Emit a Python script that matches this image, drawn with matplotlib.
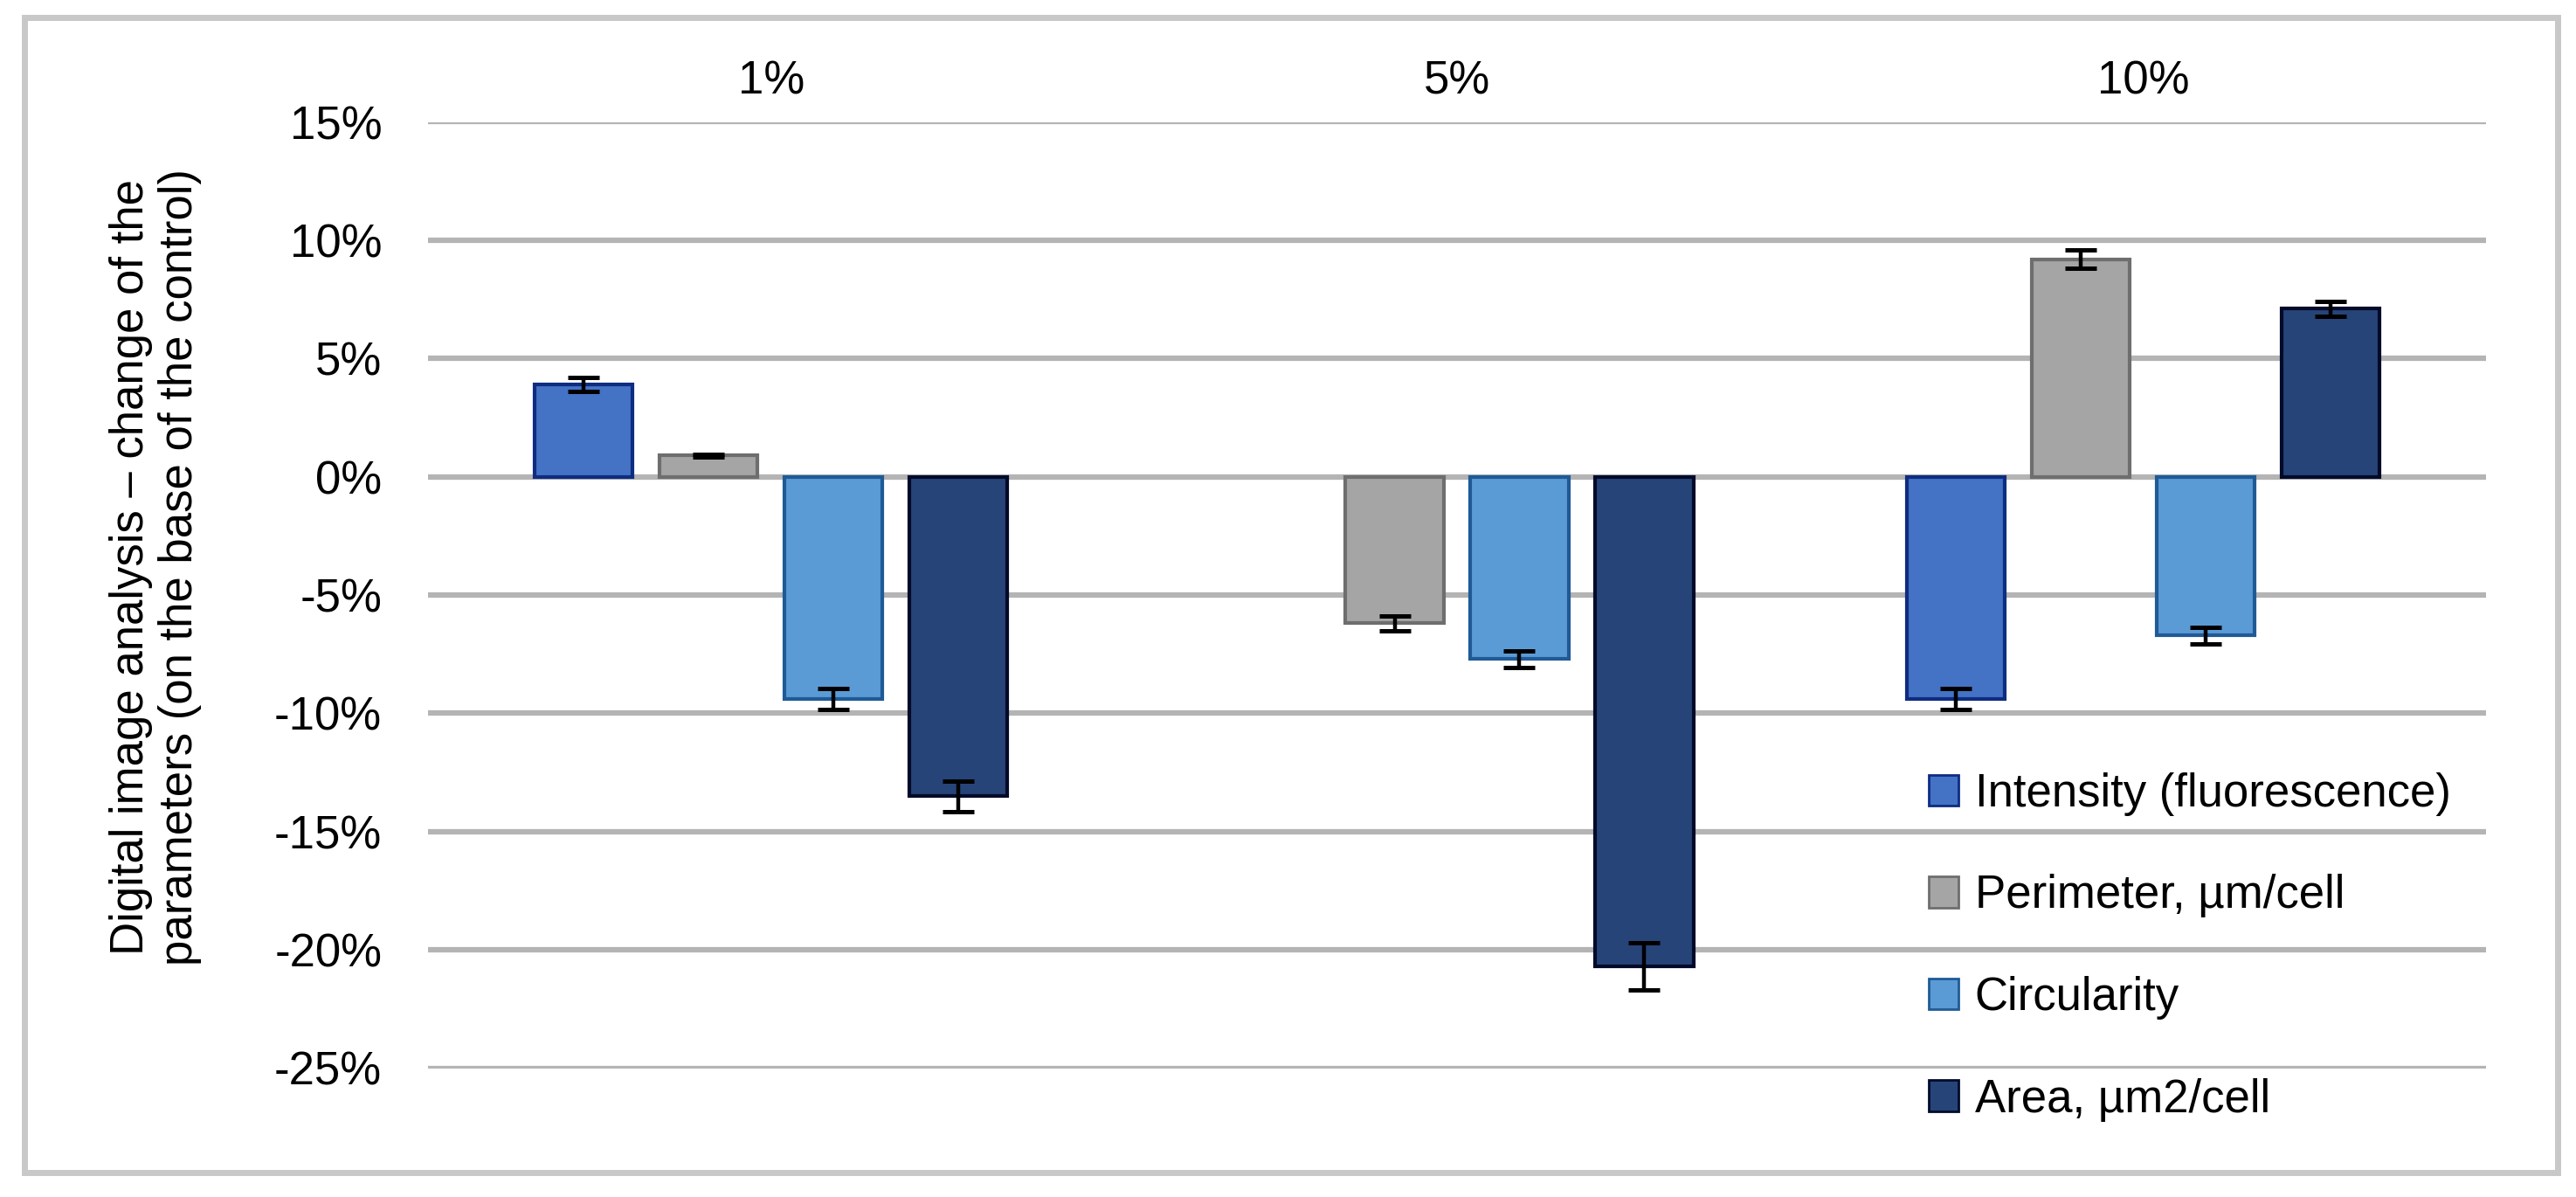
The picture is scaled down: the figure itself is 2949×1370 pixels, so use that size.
import numpy as np
import matplotlib
matplotlib.use("Agg")
import matplotlib.pyplot as plt
from matplotlib.patches import Rectangle, Patch

# ---- data ----
categories = ["1%", "5%", "10%"]
series_names = ["Intensity (fluorescence)", "Perimeter, \u00b5m/cell", "Circularity", "Area, \u00b5m2/cell"]
intensity = [3.9, np.nan, -9.4]
perimeter = [0.9, -6.2, 9.2]
circularity = [-9.4, -7.7, -6.7]
area = [-13.5, -20.7, 7.1]
intensity_err = [0.3, np.nan, 0.45]
perimeter_err = [0.05, 0.3, 0.4]
circularity_err = [0.45, 0.35, 0.35]
area_err = [0.65, 1.0, 0.3]
y_ticks = [15, 10, 5, 0, -5, -10, -15, -20, -25]

values = [intensity, perimeter, circularity, area]
errors = [intensity_err, perimeter_err, circularity_err, area_err]
face_colors = ["#4472C4", "#A5A5A5", "#5B9BD5", "#264478"]
edge_colors = ["#0E2C80", "#6E6E6E", "#1F5A96", "#020A2A"]

plt.rcParams['font.family'] = ['Liberation Sans', 'DejaVu Sans']
plt.rcParams['axes.unicode_minus'] = False

W, H = 2949, 1370
fig = plt.figure(figsize=(W / 100, H / 100), dpi=100)
ax = fig.add_axes([490 / W, 1 - 1222.5 / H, (2846 - 490) / W, (1222.5 - 139.5) / H])

x = np.arange(len(categories))
bw = 0.143
step = 0.182
for i, (vals, errs) in enumerate(zip(values, errors)):
    pos = x + (i - 1.5) * step
    v = np.array(vals, dtype=float)
    e = np.array(errs, dtype=float)
    ax.bar(pos, v, width=bw, color=face_colors[i], edgecolor=edge_colors[i],
           linewidth=3, zorder=2, label=series_names[i])
    ax.errorbar(pos, v, yerr=e, fmt='none', ecolor='black', elinewidth=3.2,
                capsize=13, capthick=3.6, zorder=3)

ax.set_xlim(-0.5, 2.5)
ax.set_ylim(-25, 15)
ax.set_yticks(y_ticks)
ax.set_yticklabels([f"{t}%" for t in y_ticks])
ax.yaxis.grid(True, color='#B4B4B4', linewidth=4.5, zorder=0)
ax.set_axisbelow(True)
for s in ax.spines.values():
    s.set_visible(False)
ax.xaxis.tick_top()
ax.set_xticks(x)
ax.set_xticklabels(categories)
ax.tick_params(axis='x', length=0, pad=15, labelsize=38, colors='#000000')
ax.tick_params(axis='y', length=0, pad=38, labelsize=38, colors='#000000')

fig.text(178 / W, 1 - 649 / H,
         "Digital image analysis \u2013 change of the\nparameters (on the base of the control)",
         rotation=90, ha='center', va='center', fontsize=38, linespacing=1.15)

handles = [Patch(facecolor=face_colors[i], edgecolor=edge_colors[i], linewidth=2)
           for i in range(4)]
fig.legend(handles, series_names, loc='upper left',
           bbox_to_anchor=(2208 / W, 1 - 884 / H), frameon=False,
           fontsize=38, handlelength=0.65, handleheight=0.65,
           handletextpad=0.35, labelspacing=1.26, borderaxespad=0, borderpad=0)

fig.patches.append(Rectangle((28 / W, 1 - 1342 / H), (2928 - 28) / W, (1342 - 20) / H,
                             transform=fig.transFigure, fill=False,
                             edgecolor='#C8C8C8', linewidth=5))

fig.savefig("out.png", dpi=100, facecolor='white')
